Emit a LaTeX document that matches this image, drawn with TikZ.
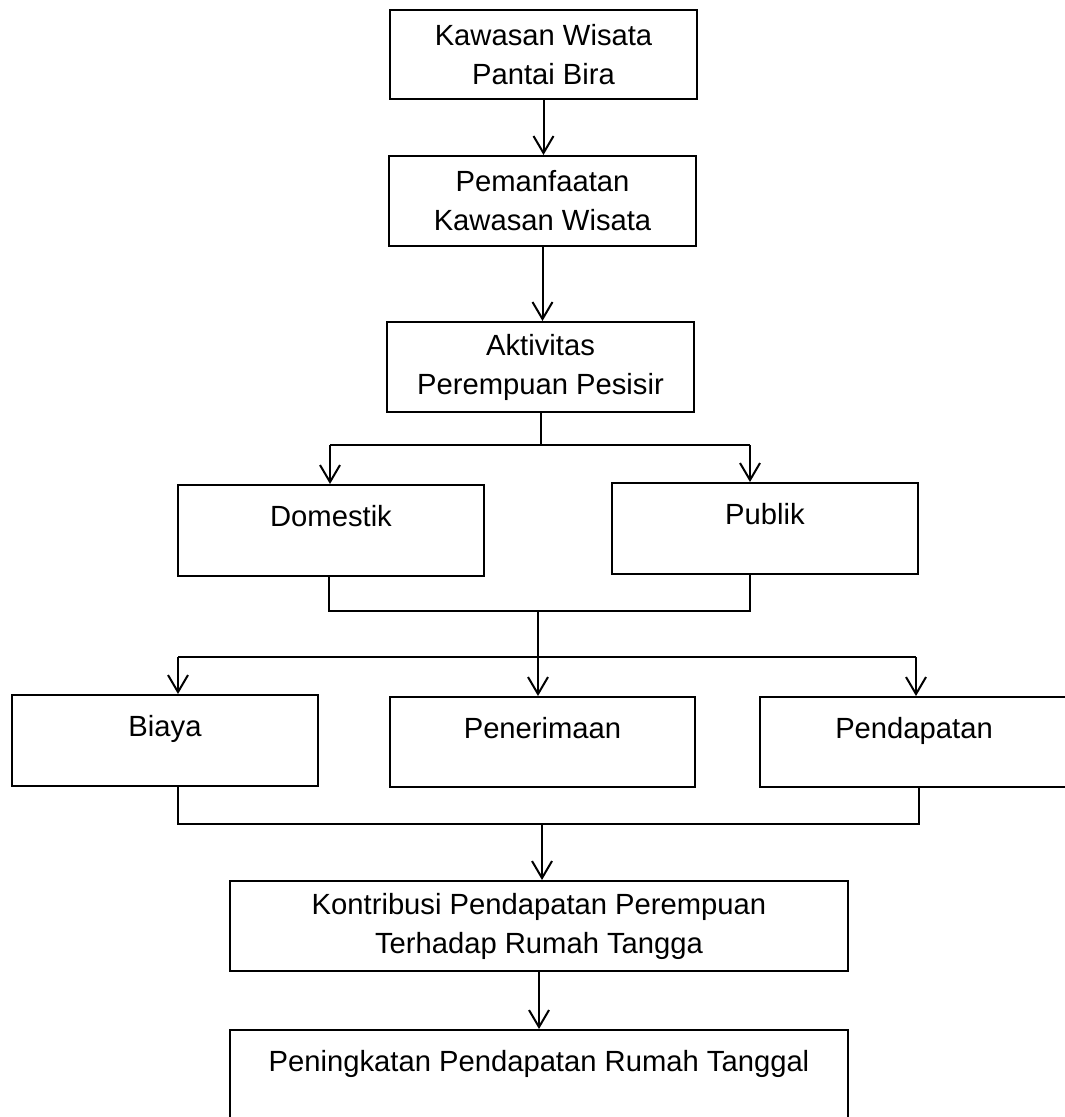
\documentclass[tikz,border=0pt]{standalone}
\usepackage{fontspec}
\setmainfont{Liberation Sans}
\usetikzlibrary{arrows.meta}
\begin{document}
\begin{tikzpicture}[x=0.5pt, y=-0.5pt, line width=1pt, >={Straight Barb[length=8.5pt,width=10pt]},
  main box/.style={draw, rectangle, inner sep=0pt, align=center, font=\fontsize{14.6}{19.5}\selectfont},
  high text/.style={text height=11pt, text depth=15pt}]
\useasboundingbox (0,0) rectangle (1064,1117);

\node [main box, minimum width=153.5pt, minimum height=44.5pt] (kawasan) at (543.5,54.5) {Kawasan Wisata\\Pantai Bira};
\node [main box, minimum width=153.5pt, minimum height=45pt] (manfaat) at (542.5,201) {Pemanfaatan\\Kawasan Wisata};
\node [main box, minimum width=153.5pt, minimum height=45pt] (aktivitas) at (540.5,367) {Aktivitas\\Perempuan Pesisir};
\node [main box, high text, minimum width=153pt, minimum height=45.5pt] (domestik) at (331,530.5) {Domestik};
\node [main box, high text, minimum width=153pt, minimum height=45.5pt] (publik) at (765,528.5) {Publik};
\node [main box, high text, minimum width=153pt, minimum height=45.5pt] (biaya) at (165,740.5) {Biaya};
\node [main box, high text, minimum width=152.5pt, minimum height=45pt] (terima) at (542.5,742) {Penerimaan};
\node [main box, high text, minimum width=154pt, minimum height=45pt] (dapat) at (914,742) {Pendapatan};
\node [main box, minimum width=309pt, minimum height=45pt] (kontribusi) at (539,926) {Kontribusi Pendapatan Perempuan\\Terhadap Rumah Tangga};
\node [main box, high text, minimum width=309pt, minimum height=45pt] (tingkat) at (539,1075) {Peningkatan Pendapatan Rumah Tanggal};

\coordinate (kiri1) at (330,445);
\coordinate (kanan1) at (750,445);
\coordinate (kiri2) at (329,611);
\coordinate (kanan2) at (750,611);
\coordinate (gabung1) at (538,611);
\coordinate (kiri3) at (178,657);
\coordinate (bagi2) at (538,657);
\coordinate (kanan3) at (916,657);
\coordinate (kiri4) at (178,824);
\coordinate (gabung2) at (542,824);
\coordinate (kanan4) at (919,824);

\draw [->] (kawasan.south) -- (kawasan.south |- manfaat.north);
\draw [->] (manfaat.south) -- (manfaat.south |- aktivitas.north);
\draw (aktivitas.south) -- (aktivitas.south |- kiri1);
\draw (kiri1) -- (kanan1);
\draw [->] (kiri1) -- (kiri1 |- domestik.north);
\draw [->] (kanan1) -- (kanan1 |- publik.north);

\draw (kiri2 |- domestik.south) -- (kiri2) -- (kanan2) -- (kanan2 |- publik.south);
\draw (gabung1) -- (bagi2);
\draw (kiri3) -- (kanan3);
\draw [->] (kiri3) -- (kiri3 |- biaya.north);
\draw [->] (bagi2) -- (bagi2 |- terima.north);
\draw [->] (kanan3) -- (kanan3 |- dapat.north);

\draw (kiri4 |- biaya.south) -- (kiri4) -- (kanan4) -- (kanan4 |- dapat.south);
\draw [->] (gabung2) -- (gabung2 |- kontribusi.north);
\draw [->] (kontribusi.south) -- (kontribusi.south |- tingkat.north);
\end{tikzpicture}
\end{document}
